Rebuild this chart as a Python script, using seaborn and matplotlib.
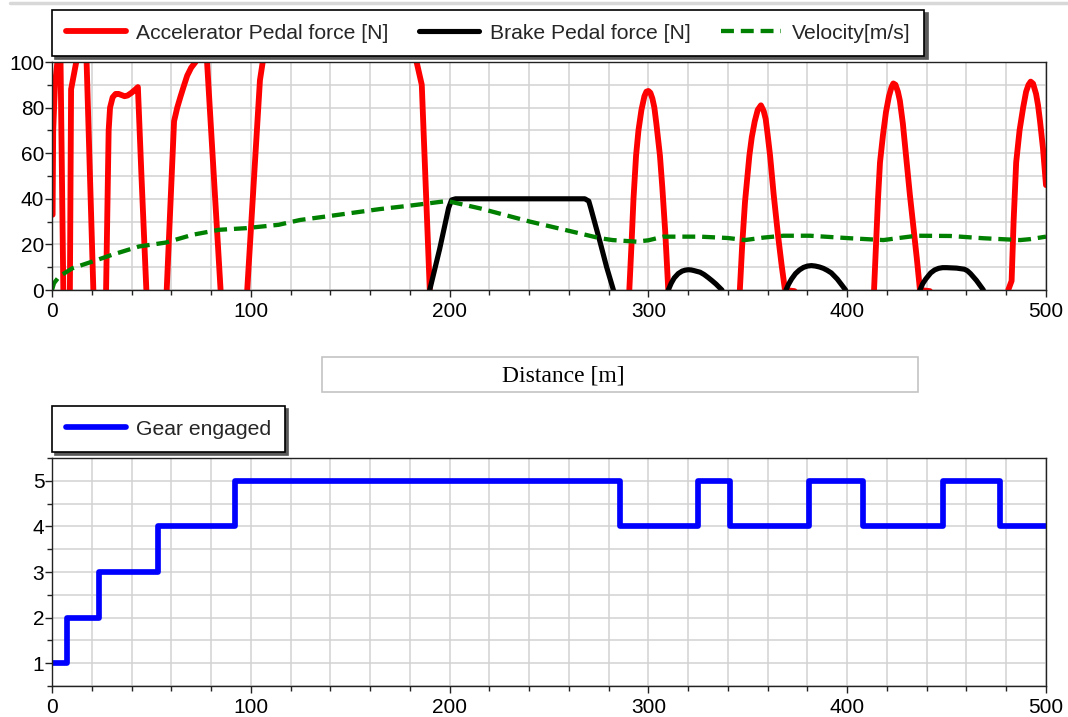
import matplotlib
matplotlib.use("Agg")
import matplotlib.pyplot as plt
import seaborn as sns
import pandas as pd
from matplotlib.patches import Rectangle
from matplotlib.lines import Line2D
from matplotlib.ticker import MultipleLocator

# ---- data ---------------------------------------------------------------
# accelerator pedal force [N] vs distance [m] (values outside 0..100 are clipped by the view)
accel_x = [0.3, 0.6, 1.5, 2.7, 3.5, 4.3, 5.7, 6.4, 8.3, 9.0, 9.6, 12.2, 13.0, 16.5, 17.4,
           20.8, 21.5, 26.5, 27.2, 28.5, 29.2, 30.5, 32.0, 33.5, 35.0, 36.5, 38.0, 40.0,
           42.0, 43.2, 45.0, 47.5, 48.2,
           57.0, 57.7, 61.4, 63.0, 64.7, 66.5, 68.0, 70.0, 72.2, 75.0, 77.0, 78.0, 84.8,
           85.5, 97.5, 98.2, 104.6, 106.0, 108.0, 181.0, 183.4, 186.0, 190.0, 190.7,
           289.7, 290.4, 291.5, 292.5, 293.8, 295.0, 296.5, 298.0, 299.0, 300.0, 301.0,
           302.0, 303.0, 304.0, 305.8, 307.0, 308.5, 310.0, 310.7,
           345.3, 346.0, 347.2, 348.6, 350.8, 352.0, 353.5, 355.0, 356.6, 358.0, 359.0,
           360.0, 361.2, 363.0, 365.2, 367.0, 368.7, 373.5, 375.0,
           412.8, 413.5, 414.5, 415.5, 416.5, 418.0, 419.5, 421.0, 422.3, 423.2, 424.3,
           425.5, 426.5, 428.0, 429.6, 431.5, 433.0, 435.0, 436.6, 441.6, 443.0,
           480.3, 481.0, 482.7, 483.7, 485.0, 486.7, 488.5, 490.0, 491.2, 492.3, 493.5,
           495.0, 496.0, 497.0, 498.5, 500.0]
accel_y = [33, 70, 90, 100, 110, 100, 0, -15, -15, 0, 88, 100, 108, 108, 100,
           0, -15, -15, 0, 70, 80, 84.5, 86, 86, 85.5, 85, 85.3, 86.5,
           88, 89, 50, 0, -15,
           -15, 0, 74, 80, 85, 90, 94, 97.5, 100, 108, 108, 100, 0,
           -15, -15, 0, 92, 100, 110, 110, 100, 90, 0, -15,
           -15, 0, 20, 40, 59, 70, 79, 85, 87, 87.3, 86.5,
           84, 80, 73, 59, 45, 25, 0, -15,
           -15, 0, 20, 38.7, 59, 67, 74, 79, 81, 78.5, 75,
           68, 59, 42, 24, 11, 0, -0.5, -15,
           -15, 0, 20, 40, 56, 68, 78, 85, 89, 90.6, 90,
           87, 83, 73, 59, 42, 30, 14, 0, -0.5, -15,
           -15, 0, 4, 30, 56, 70, 80, 87, 90, 91.4, 90.5,
           86, 81, 74, 62, 46]

# brake pedal force [N]
brake_x = [189.3, 190.0, 195.0, 199.5, 201.0, 203.0, 268.0, 270.0, 271.0, 273.5, 275.7,
           279.0, 282.4, 283.1, 309.3, 310.0, 311.5, 313.0, 315.0, 317.0, 318.5, 320.0,
           321.5, 323.0, 326.0, 328.0, 330.0, 332.0, 334.0, 337.0, 337.7,
           368.5, 369.2, 370.5, 372.0, 374.0, 376.0, 378.0, 380.0, 382.0, 384.0, 386.0,
           388.0, 390.0, 392.0, 395.0, 399.2, 399.9,
           435.9, 436.6, 438.0, 439.5, 442.0, 444.0, 446.0, 448.0, 450.0, 455.0, 459.0,
           460.5, 462.0, 465.0, 468.5, 469.2, 500.0]
brake_y = [-15, 0, 18, 36, 39.5, 40, 40, 39, 36, 28, 21,
           10, 0, -15, -15, 0, 3, 5.3, 7.2, 8.3, 8.7, 8.9,
           8.8, 8.5, 7.8, 6.8, 5.5, 4.1, 2.6, 0, -15,
           -15, 0, 2.5, 4.8, 7.2, 8.8, 9.9, 10.5, 10.7, 10.5, 10.1,
           9.5, 8.6, 7.5, 4.8, 0, -15,
           -15, 0, 2.8, 4.8, 7.5, 8.8, 9.5, 9.8, 9.8, 9.6, 9.1,
           8.4, 7.2, 4.2, 0, -15, -15]

# vehicle velocity [m/s]
vel_x = [0, 1, 3.7, 10.4, 20.4, 30.4, 43.8, 57.2, 70.6, 84, 97.3, 114, 124.7, 140, 155,
         165, 180, 198.5, 200, 215.3, 240.4, 265.6, 275.7, 282, 294, 300, 307.5, 316,
         326, 340, 348.6, 358, 367.9, 381.3, 401.4, 418.2, 426, 435, 451.7, 468.5, 487,
         492, 500]
vel_y = [0, 3, 6, 9.6, 12.5, 15.5, 19.1, 20.8, 24.2, 26.4, 27.1, 28.6, 30.7, 32.5, 34.3,
         35.5, 37, 39, 38.8, 35.8, 30, 24.8, 22.7, 21.9, 21.2, 21.8, 23.4, 23.4,
         23.4, 22.8, 21.9, 23, 23.8, 23.8, 22.7, 21.9, 22.8, 23.8, 23.7, 22.7, 21.9,
         22.3, 23.4]

# engaged gear (held until the next change point)
gear_x = [0, 7.4, 23.6, 53.2, 92.0, 285.7, 325.1, 341.0, 381.0, 408.0, 448.4, 476.9, 500.0]
gear_y = [1, 2, 3, 4, 5, 4, 5, 4, 5, 4, 5, 4, 4]

labels_top = ["Accelerator Pedal force [N]", "Brake Pedal force [N]", "Velocity[m/s]"]
label_gear = "Gear engaged"
x_label = "Distance [m]"

# ---- styling ------------------------------------------------------------
sns.set_theme(style="white")
plt.rcParams['font.family'] = ['Liberation Sans', 'DejaVu Sans']

W, H = 1068, 717
fig = plt.figure(figsize=(W / 100, H / 100), dpi=100)
fig.patch.set_facecolor("white")


def frac_box(l, t, r, b):
    return [l / W, 1 - b / H, (r - l) / W, (b - t) / H]


ax1 = fig.add_axes(frac_box(52, 62, 1046, 290))
ax2 = fig.add_axes(frac_box(52, 458, 1046, 686))

df_acc = pd.DataFrame({"x": accel_x, "y": accel_y})
df_brk = pd.DataFrame({"x": brake_x, "y": brake_y})
df_vel = pd.DataFrame({"x": vel_x, "y": vel_y})
df_gear = pd.DataFrame({"x": gear_x, "y": gear_y})

line_kw = dict(sort=False, estimator=None, legend=False)
sns.lineplot(data=df_acc, x="x", y="y", ax=ax1, color="#ff0000", linewidth=4.2,
             solid_joinstyle="round", **line_kw)
sns.lineplot(data=df_brk, x="x", y="y", ax=ax1, color="black", linewidth=3.7,
             solid_joinstyle="round", **line_kw)
sns.lineplot(data=df_vel, x="x", y="y", ax=ax1, color="#008000", linewidth=3.1,
             linestyle=(0, (3.0, 1.6)), **line_kw)
sns.lineplot(data=df_gear, x="x", y="y", ax=ax2, color="#0000ff", linewidth=4.1,
             drawstyle="steps-post", solid_joinstyle="round", **line_kw)

for ax in (ax1, ax2):
    ax.set_xlim(0, 500)
    ax.xaxis.set_major_locator(MultipleLocator(100))
    ax.xaxis.set_minor_locator(MultipleLocator(20))
    ax.grid(which="both", color="#d2d2d2", linewidth=1.1)
    ax.set_axisbelow(True)
    ax.set_xlabel("")
    ax.set_ylabel("")
    ax.tick_params(which="major", direction="out", length=5, width=1, color="#222222",
                   labelsize=15, labelcolor="black")
    ax.tick_params(which="minor", direction="out", length=3.5, width=1, color="#222222")
    ax.tick_params(axis="x", which="both", bottom=True)
    ax.tick_params(axis="x", which="major", pad=3.5)
    ax.tick_params(axis="y", which="both", left=True)
    ax.tick_params(axis="y", which="major", pad=0.5)
    for s in ax.spines.values():
        s.set_visible(True)
        s.set_color("#222222")
        s.set_linewidth(1.0)

ax1.set_ylim(0, 100)
ax1.yaxis.set_major_locator(MultipleLocator(20))
ax1.yaxis.set_minor_locator(MultipleLocator(10))

ax2.set_ylim(0.5, 5.5)
ax2.yaxis.set_major_locator(MultipleLocator(1))
ax2.yaxis.set_minor_locator(MultipleLocator(0.5))

# legends above each panel
leg_kw = dict(loc="upper left", frameon=True, fancybox=False,
              shadow={"color": "0.35", "alpha": 1.0, "ox": 2.5, "oy": -2.5},
              edgecolor="black", facecolor="white", framealpha=1.0, fontsize=15.2,
              handlelength=2.85, handletextpad=0.5, columnspacing=1.45,
              borderpad=0.64, borderaxespad=0)

h_top = ax1.get_lines()[:3]
leg1 = fig.legend(h_top, labels_top, ncol=3, bbox_to_anchor=(52 / W, 1 - 10 / H), **leg_kw)
leg1.get_frame().set_linewidth(1.2)

h_gear = ax2.get_lines()[:1]
leg2 = fig.legend(h_gear, [label_gear], ncol=1, bbox_to_anchor=(52 / W, 1 - 406 / H), **leg_kw)
leg2.get_frame().set_linewidth(1.2)

# shared distance caption in its own box between the panels
fig.add_artist(Rectangle((322 / W, 1 - 392 / H), 596 / W, 35 / H, transform=fig.transFigure,
                         facecolor="white", edgecolor="#c4c4c4", linewidth=1.2))
fig.text(563 / W, 1 - 376 / H, x_label, ha="center", va="center", fontsize=17,
         family=["Liberation Serif", "DejaVu Serif"], color="black")

# thin rule along the top of the figure
fig.add_artist(Line2D([10 / W, 1], [1 - 2.5 / H, 1 - 2.5 / H], transform=fig.transFigure,
                      color="#d8d8d8", linewidth=2.5))

fig.savefig("out.png", dpi=100, facecolor="white")
